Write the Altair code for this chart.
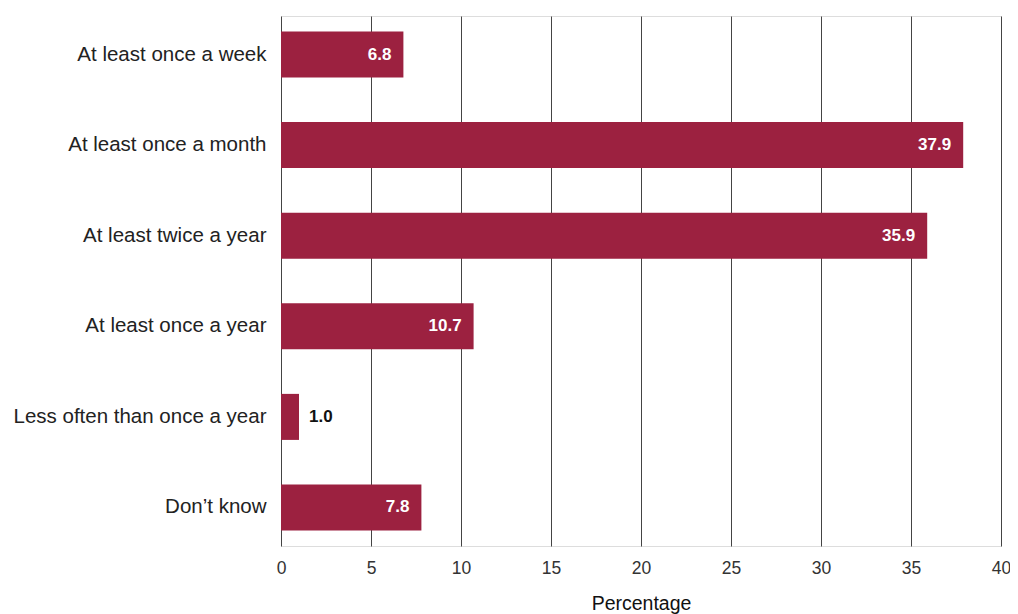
import altair as alt
import pandas as pd

categories = ["At least once a week", "At least once a month", "At least twice a year",
              "At least once a year", "Less often than once a year", "Don\u2019t know"]
values = [6.8, 37.9, 35.9, 10.7, 1.0, 7.8]

df = pd.DataFrame({"cat": categories, "val": values})
df["lbl"] = df["val"].map(lambda v: f"{v:.1f}")
df["inside"] = df["val"] >= 3

FONT = "Liberation Sans"
BAR = "#9C2140"

y_enc = alt.Y("cat:N", sort=categories, title=None,
              scale=alt.Scale(paddingInner=0.492, paddingOuter=0.171),
              axis=alt.Axis(labelFont=FONT, labelFontSize=20.5, labelColor="#222",
                            labelPadding=15, ticks=False, domain=False, grid=False,
                            labelLimit=400))
x_enc = alt.X("val:Q", title="Percentage",
              scale=alt.Scale(domain=[0, 40], nice=False),
              axis=alt.Axis(values=[0, 5, 10, 15, 20, 25, 30, 35, 40],
                            labelFont=FONT, labelFontSize=17.5, labelColor="#333",
                            labelPadding=13, labelFlush=False, ticks=False, domain=False,
                            grid=True, gridColor="#444", gridWidth=1,
                            titleFont=FONT, titleFontSize=19.5, titleFontWeight="normal",
                            titleColor="#111", titlePadding=18))

bars = alt.Chart(df).mark_bar(color=BAR).encode(x=x_enc, y=y_enc)

inside = alt.Chart(df).transform_filter("datum.inside").mark_text(
    align="right", baseline="middle", dx=-12, color="white", font=FONT,
    fontSize=17, fontWeight="bold").encode(x="val:Q", y=alt.Y("cat:N", sort=categories), text="lbl:N")

outside = alt.Chart(df).transform_filter("!datum.inside").mark_text(
    align="left", baseline="middle", dx=10, color="#111", font=FONT,
    fontSize=17, fontWeight="bold").encode(x="val:Q", y=alt.Y("cat:N", sort=categories), text="lbl:N")

chart = alt.layer(bars, inside, outside).properties(
    width=720, height=530,
    autosize=alt.AutoSizeParams(type="none"),
    padding={"left": 273, "top": 8, "right": 9, "bottom": 70},
).configure_view(stroke=None).configure(background="white")

chart.save("out.html", embed_options={"renderer": "svg", "actions": False})
